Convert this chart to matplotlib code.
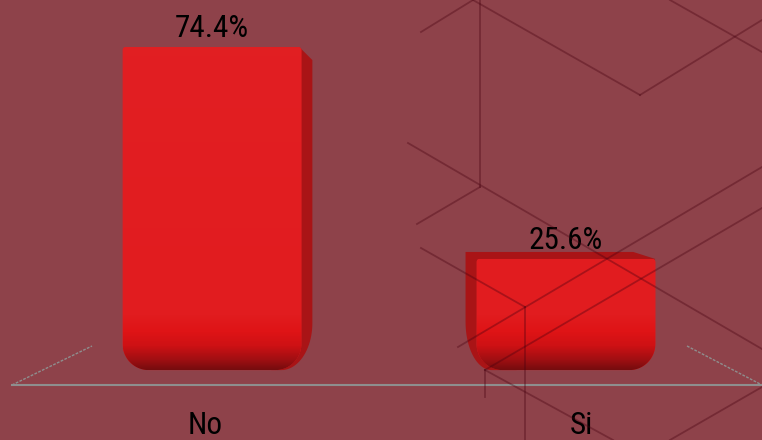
import numpy as np
import matplotlib
matplotlib.use('Agg')
import matplotlib.pyplot as plt
from matplotlib.path import Path
from matplotlib.patches import PathPatch
from matplotlib.lines import Line2D
from matplotlib import font_manager

# data
categories = ['No', 'Si']
values = [74.4, 25.6]

# style
W, H = 762, 440
BG = '#8E424A'
FRONT = '#E11E22'
SIDE_COL = '#A91416'
BW = 0.505
SIDES = ['right', 'left']      # which side of the 3D box is visible
LABEL_DX = [-7, 16]            # small shift of category labels (px)

# narrow font if there is one, else plain Liberation Sans
names = {f.name for f in font_manager.fontManager.ttflist}
FONT, FS = 'Liberation Sans', 20
for cand in ['Liberation Sans Narrow', 'Arial Narrow', 'Roboto Condensed', 'Open Sans Condensed']:
    if cand in names:
        FONT, FS = cand, 22.5
        break

# background hexagon lines (top-origin pixels)
BG_LINES = [
    ((421, 32), (473, 0)),
    ((480, 0), (480, 187)),
    ((473, 0), (640, 95)),
    ((640, 95), (762, 20)),
    ((670, 0), (762, 52)),
    ((408, 143), (762, 349)),
    ((480, 187), (417, 224)),
    ((421, 248), (525, 307)),
    ((525, 307), (525, 440)),
    ((458, 347), (762, 167)),
    ((762, 208), (485, 370)),
    ((485, 370), (485, 397)),
    ((485, 370), (613, 440)),
    ((670, 440), (762, 387)),
]

fig = plt.figure(figsize=(W / 100, H / 100), dpi=100, facecolor=BG)
ax = fig.add_axes([0, 0, 1, 1])
ax.set_facecolor('none')
ax.axis('off')
ax.set_xlim(-0.599, 1.554)
ax.set_ylim(-16.1, 85.25)


def arc(cx, cy, rx, ry, a0, a1, n=24):
    a = np.radians(np.linspace(a0, a1, n))
    return list(zip(cx + rx * np.cos(a), cy + ry * np.sin(a)))


def to_patch(pts, **kw):
    # pts in display pixels -> data coords
    v = ax.transData.inverted().transform(np.array(pts))
    v = np.vstack([v, v[:1]])
    codes = [Path.MOVETO] + [Path.LINETO] * (len(v) - 2) + [Path.CLOSEPOLY]
    return PathPatch(Path(v, codes), **kw)


def shade(d):
    # colour by distance from the bottom of the bar (px)
    stops = [0, 10, 24, 38, 55, 400]
    cols = np.array([[118, 12, 14], [160, 15, 18], [206, 17, 20],
                     [223, 20, 22], [225, 28, 31], [226, 32, 36]]) / 255
    return np.stack([np.interp(d, stops, cols[:, k]) for k in range(3)], axis=-1)


for i, v in enumerate(values):
    xl, yb = ax.transData.transform((i - BW / 2, 0))
    xr, yt = ax.transData.transform((i + BW / 2, v))

    # side / top face
    if SIDES[i] == 'right':
        pts = [(xr - 30, yt), (xr - 2, yt), (xr + 11, yt - 13), (xr + 11, yb + 47)]
        pts += arc(xr + 11 - 31, yb + 47, 31, 47, 0, -90)
        pts += [(xr - 30, yb)]
    else:
        pts = [(xr, yt), (xr - 22, yt + 7), (xl - 11, yt + 7), (xl - 11, yb + 48)]
        pts += arc(xl - 11 + 26, yb + 48, 26, 48, 180, 270)
        pts += [(xl + 40, yb)]
    ax.add_patch(to_patch(pts, facecolor=SIDE_COL, edgecolor='none', zorder=2))

    # front face with rounded bottom
    r, rt = 26, 3
    pts = arc(xl + r, yb + r, r, r, 180, 270) + arc(xr - r, yb + r, r, r, 270, 360)
    pts += arc(xr - rt, yt - rt, rt, rt, 0, 90) + arc(xl + rt, yt - rt, rt, rt, 90, 180)
    front = to_patch(pts, facecolor=FRONT, edgecolor='none', zorder=3)
    ax.add_patch(front)
    d = np.arange(int(yt - yb) + 1)[:, None] * np.ones((1, 4))
    ax.imshow(shade(d), extent=(i - BW / 2, i + BW / 2, 0, v), origin='lower',
              aspect='auto', interpolation='bilinear', clip_path=front, zorder=4)

    ax.annotate(f'{v}%', xy=(i, v), xytext=(0, 10), textcoords='offset pixels',
                ha='center', va='baseline', fontsize=FS, family=FONT, color='black', zorder=6)
    ax.annotate(categories[i], xy=(i, 0), xytext=(LABEL_DX[i], -64), textcoords='offset pixels',
                ha='center', va='baseline', fontsize=FS, family=FONT, color='black', zorder=6)

ax.set_xlim(-0.599, 1.554)
ax.set_ylim(-16.1, 85.25)

# floor
def fl(p):
    return p[0] / W, 1 - p[1] / H

for a, b, ls in [((12, 385), (762, 385), '-'), ((12, 385), (92, 346), (0, (2, 1))),
                 ((687, 346), (762, 385), (0, (2, 1)))]:
    (x0, y0), (x1, y1) = fl(a), fl(b)
    fig.add_artist(Line2D([x0, x1], [y0, y1], transform=fig.transFigure,
                          color='#8E8E8E', lw=1.5 if ls == '-' else 1.0, linestyle=ls, zorder=1))

# decorative lines drawn over everything, semi transparent
for a, b in BG_LINES:
    (x0, y0), (x1, y1) = fl(a), fl(b)
    fig.add_artist(Line2D([x0, x1], [y0, y1], transform=fig.transFigure,
                          color='#46000F', lw=1.3, alpha=0.36, zorder=5))

fig.savefig('out.png', dpi=100, facecolor=BG)
